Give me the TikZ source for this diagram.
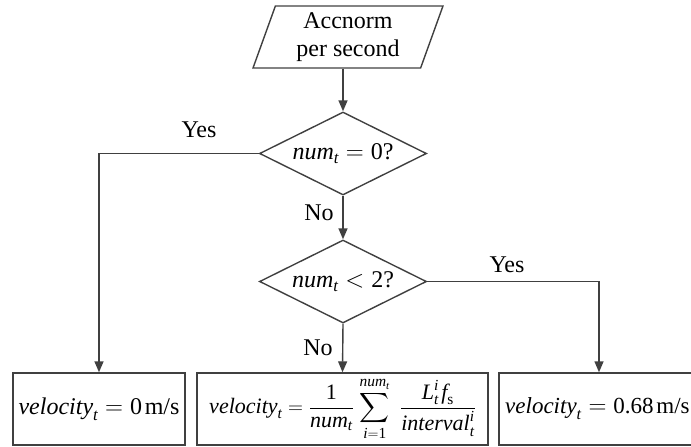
\documentclass[tikz,border=0pt]{standalone}
\usepackage{amsmath}
\usepackage{fontspec}
\setmainfont{Liberation Serif}
\newfontfamily\tnr{Liberation Serif}
\usetikzlibrary{shapes.geometric,arrows.meta}
\newcommand{\myi}[1]{{\tnr\itshape #1}}
\newcommand{\myr}[1]{{\tnr\upshape #1}}
\newcommand{\vi}[1]{\text{\myi{#1}}}
\newcommand{\vr}[1]{\text{\myr{#1}}}
\definecolor{linec}{HTML}{404040}
\begin{document}
\begin{tikzpicture}[x=1pt,y=-1pt,
  every node/.style={font=\tnr\fontsize{24}{28}\selectfont, text=black},
  conn/.style={draw=linec, line width=1.4pt},
  arr/.style={conn, -{Triangle[length=11pt,width=9pt]}},
  decision/.style={diamond, draw=linec, line width=1.4pt, aspect=2, inner sep=0pt,
    minimum width=167pt, minimum height=83pt},
  inbox/.style={trapezium, trapezium left angle=72, trapezium right angle=108,
    trapezium stretches=true, draw=linec, line width=1.4pt, inner sep=0pt,
    minimum width=190pt, minimum height=62pt, align=center},
  outbox/.style={rectangle, draw=linec, line width=1.4pt, inner sep=0pt, minimum height=72pt},
  lbl/.style={inner sep=0pt}
]
\useasboundingbox (0,0) rectangle (691,447);
\node[inbox] (in) at (348,37) {Accnorm\\per second};
\node[decision] (d1) at (343,153.5) {$\vi{num}_{\vi{t}} = \vr{0?}$};
\node[decision] (d2) at (343,281.5) {$\vi{num}_{\vi{t}} < \vr{2?}$};
\node[outbox, minimum width=172pt] (b1) at (99,409) {$\vi{velocity}_{\vi{t}} = \vr{0}\mkern2mu\vr{m/s}$};
\node[outbox, minimum width=291pt] (b2) at (342.5,409) {};
\node[lbl, font=\tnr\fontsize{22}{25}\selectfont] (b2t) at (342.5,409) {$\displaystyle \vi{velocity}_{\vi{t}} = \frac{\vr{1}}{\vi{num}_{\vi{t}}}\mkern2mu\sum_{\vi{i}=\vr{1}}^{\vi{num}_{\vi{t}}}\mkern6mu\frac{\vi{L}_{\vi{t}}^{\vi{i}}\mkern2mu\vi{f}_{\vr{s}}}{\vi{interval}_{\vi{t}}^{\vi{i}}}$};
\node[outbox, minimum width=200pt] (b3) at (599,409) {};
\node[lbl, anchor=west, font=\tnr\fontsize{23}{27}\selectfont] (b3t) at (505,409) {$\vi{velocity}_{\vi{t}} = \vr{0.68}\mkern2mu\vr{m/s}$};
\draw[arr] (in.south -| d1.north) -- (d1.north);
\draw[arr] (d1.south) -- (d2.north);
\draw[arr] (d1.west) -| (b1.north);
\draw[arr] (d2.south) -- (b2.north);
\draw[arr] (d2.east) -| (b3.north);
\node[lbl] (yes1) at (199,130) {Yes};
\node[lbl] (no1) at (319,213) {No};
\node[lbl] (yes2) at (507,265) {Yes};
\node[lbl] (no2) at (318,348) {No};
\end{tikzpicture}
\end{document}
